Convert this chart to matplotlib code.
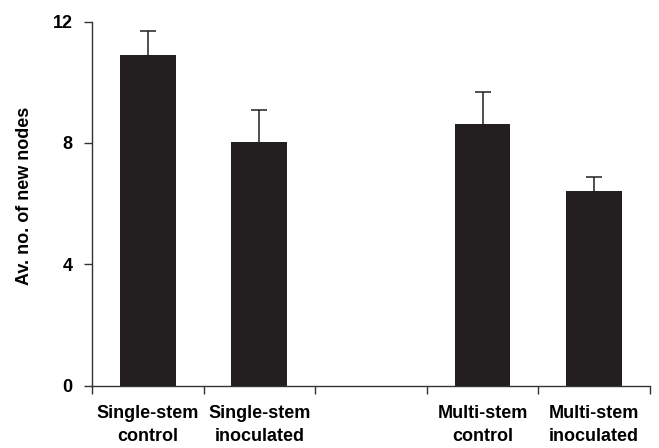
import numpy as np
import matplotlib.pyplot as plt

plt.rcParams['font.family'] = ['Liberation Sans', 'DejaVu Sans']
plt.rcParams['font.weight'] = 'bold'

# Data
groups = ['Single-stem\ncontrol', 'Single-stem\ninoculated', '',
          'Multi-stem\ncontrol', 'Multi-stem\ninoculated']
means = [10.9, 8.03, np.nan, 8.64, 6.42]
err_up = [0.81, 1.07, np.nan, 1.04, 0.45]

ink = '#231f20'
x = np.arange(len(groups))

fig = plt.figure(figsize=(6.59, 4.48), dpi=100)
ax = fig.add_axes([0.1396, 0.1395, 0.8467, 0.812])

ax.bar(x, np.nan_to_num(means), width=0.5, color=ink, zorder=2)
lower = [0 for _ in err_up]
eb = ax.errorbar(x, means, yerr=[lower, err_up], fmt='none', ecolor=ink,
                 elinewidth=1.1, capsize=5.6, capthick=1.1, zorder=3)
# only the upper cap is wanted
for cap in eb[1]:
    yd = np.asarray(cap.get_ydata(), float)
    if yd.shape == np.shape(means) and np.allclose(yd, means, equal_nan=True):
        cap.set_visible(False)

ax.set_xlim(-0.5, len(groups) - 0.5)
ax.set_ylim(0, 12)
ax.set_yticks([0, 4, 8, 12])

# labels centred under the bars, tick marks on the category boundaries
ax.set_xticks(x)
ax.set_xticklabels(groups, fontsize=13, fontweight='bold', linespacing=1.45)
ax.tick_params(axis='x', which='major', length=0, pad=14)
ax.set_xticks(np.arange(-0.5, len(groups)), minor=True)
ax.tick_params(axis='x', which='minor', length=6, width=1, color='#333333')
ax.tick_params(axis='y', length=6, width=1, color='#333333', pad=8,
               labelsize=13)
for lab in ax.get_yticklabels():
    lab.set_fontweight('bold')

ax.set_ylabel('Av. no. of new nodes', fontsize=13, fontweight='bold')
ax.yaxis.set_label_coords(-0.105, 0.52)

for side in ['top', 'right']:
    ax.spines[side].set_visible(False)
for side in ['left', 'bottom']:
    ax.spines[side].set_color('#333333')
    ax.spines[side].set_linewidth(1)

fig.savefig('out.png', dpi=100)
